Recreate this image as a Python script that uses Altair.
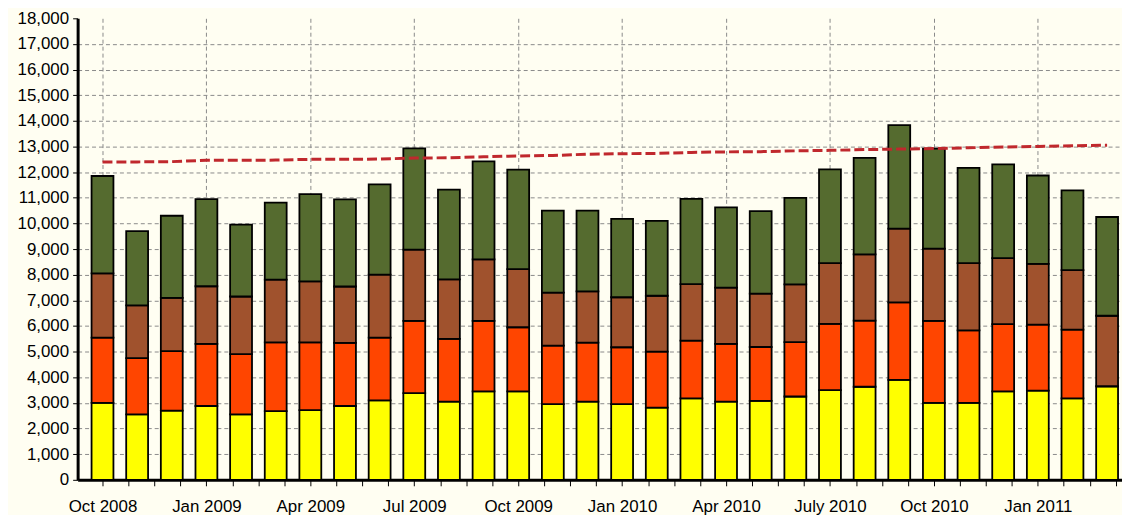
import json
import altair as alt
import pandas as pd

months = ["Oct 2008", "Nov 2008", "Dec 2008", "Jan 2009", "Feb 2009", "Mar 2009",
          "Apr 2009", "May 2009", "Jun 2009", "Jul 2009", "Aug 2009", "Sep 2009",
          "Oct 2009", "Nov 2009", "Dec 2009", "Jan 2010", "Feb 2010", "Mar 2010",
          "Apr 2010", "May 2010", "Jun 2010", "Jul 2010", "Aug 2010", "Sep 2010",
          "Oct 2010", "Nov 2010", "Dec 2010", "Jan 2011", "Feb 2011", "Mar 2011"]

quarter_labels = ["Oct 2008", "Jan 2009", "Apr 2009", "Jul 2009", "Oct 2009",
                  "Jan 2010", "Apr 2010", "July 2010", "Oct 2010", "Jan 2011"]

series_names = ["Series 1", "Series 2", "Series 3", "Series 4"]
series_colors = ["#FFFF00", "#FF4500", "#A0522D", "#556B2F"]

s1 = [3000, 2550, 2700, 2880, 2550, 2680, 2720, 2880, 3100, 3380, 3050, 3450,
      3450, 2950, 3050, 2950, 2820, 3180, 3050, 3080, 3250, 3500, 3630, 3900,
      3000, 3000, 3450, 3480, 3180, 3650]
s2 = [2550, 2200, 2320, 2420, 2350, 2680, 2640, 2460, 2450, 2820, 2450, 2750,
      2500, 2280, 2300, 2220, 2180, 2250, 2250, 2100, 2120, 2580, 2580, 3020,
      3200, 2830, 2620, 2570, 2680, 0]
s3 = [2500, 2050, 2080, 2250, 2250, 2450, 2380, 2200, 2450, 2780, 2320, 2400,
      2270, 2070, 2000, 1950, 2180, 2200, 2200, 2080, 2250, 2370, 2580, 2880,
      2820, 2620, 2580, 2370, 2320, 2750]
s4 = [3800, 2900, 3200, 3400, 2800, 3000, 3400, 3400, 3520, 3950, 3500, 3820,
      3880, 3200, 3150, 3060, 2920, 3330, 3130, 3220, 3380, 3660, 3770, 4030,
      3900, 3720, 3650, 3450, 3110, 3850]

target = [12400, 12400, 12410, 12460, 12460, 12470, 12500, 12500, 12510, 12550,
          12560, 12600, 12630, 12650, 12700, 12720, 12730, 12770, 12790, 12800,
          12830, 12850, 12880, 12900, 12920, 12950, 12980, 13000, 13030, 13050]

rows = []
for i, m in enumerate(months):
    for k, (name, vals) in enumerate(zip(series_names, [s1, s2, s3, s4])):
        rows.append({"idx": i, "month": m, "series": name, "order": k, "value": vals[i]})
df = pd.DataFrame(rows)
line_df = pd.DataFrame({"idx": list(range(len(months))), "month": months, "target": target})

font = "Liberation Sans"
x_ticks = [i * 0.75 for i in range(0, 40)]
label_expr = "datum.value % 3 === 0 ? " + json.dumps(quarter_labels) + "[datum.value / 3] : ''"

x_scale = alt.Scale(domain=[-0.718, 29.43], nice=False, zero=False, padding=0)
x_axis = alt.Axis(values=x_ticks, labelExpr=label_expr, labelOverlap=False, labelFlush=False,
                  grid=True, gridDash=[4, 3], gridColor="#8a8a8a", gridWidth=1,
                  gridOpacity={"condition": {"test": "datum.value % 3 === 0", "value": 1}, "value": 0},
                  tickColor="black", tickSize=6, tickWidth=1,
                  domainColor="black", domainWidth=3, labelFontSize=17, labelPadding=13,
                  labelColor="black", labelFont=font, title=None)
y_scale = alt.Scale(domain=[0, 18000], nice=False, padding=0)
y_axis = alt.Axis(values=list(range(0, 18001, 1000)), format=",.0f", grid=True,
                  gridDash=[4, 3], gridColor="#8a8a8a", gridWidth=1,
                  gridOpacity={"condition": {"test": "datum.value < 18000 && datum.value > 0", "value": 1}, "value": 0},
                  tickColor="black", tickSize=5, domainColor="black", domainWidth=3,
                  labelFontSize=17, labelPadding=4, labelColor="black", labelFont=font, title=None)

bars = alt.Chart(df).mark_bar(size=22, stroke="black", strokeWidth=1.8).encode(
    x=alt.X("idx:Q", scale=x_scale, axis=x_axis),
    y=alt.Y("value:Q", stack="zero", scale=y_scale, axis=y_axis),
    color=alt.Color("series:N", scale=alt.Scale(domain=series_names, range=series_colors), legend=None),
    order=alt.Order("order:Q"),
)

line = alt.Chart(line_df).mark_line(color="#C0282D", strokeWidth=3, strokeDash=[10, 4]).encode(
    x=alt.X("idx:Q", scale=x_scale, axis=x_axis),
    y=alt.Y("target:Q", scale=y_scale, axis=y_axis),
)

chart = alt.layer(bars, line).properties(
    width=1050, height=464,
    autosize=alt.AutoSizeParams(type="none"),
    padding={"left": 70, "top": 9, "right": 0, "bottom": 34},
    background="#FFFEF2",
).configure_view(stroke=None)

chart.save("out.html", embed_options={"renderer": "svg", "actions": False})
